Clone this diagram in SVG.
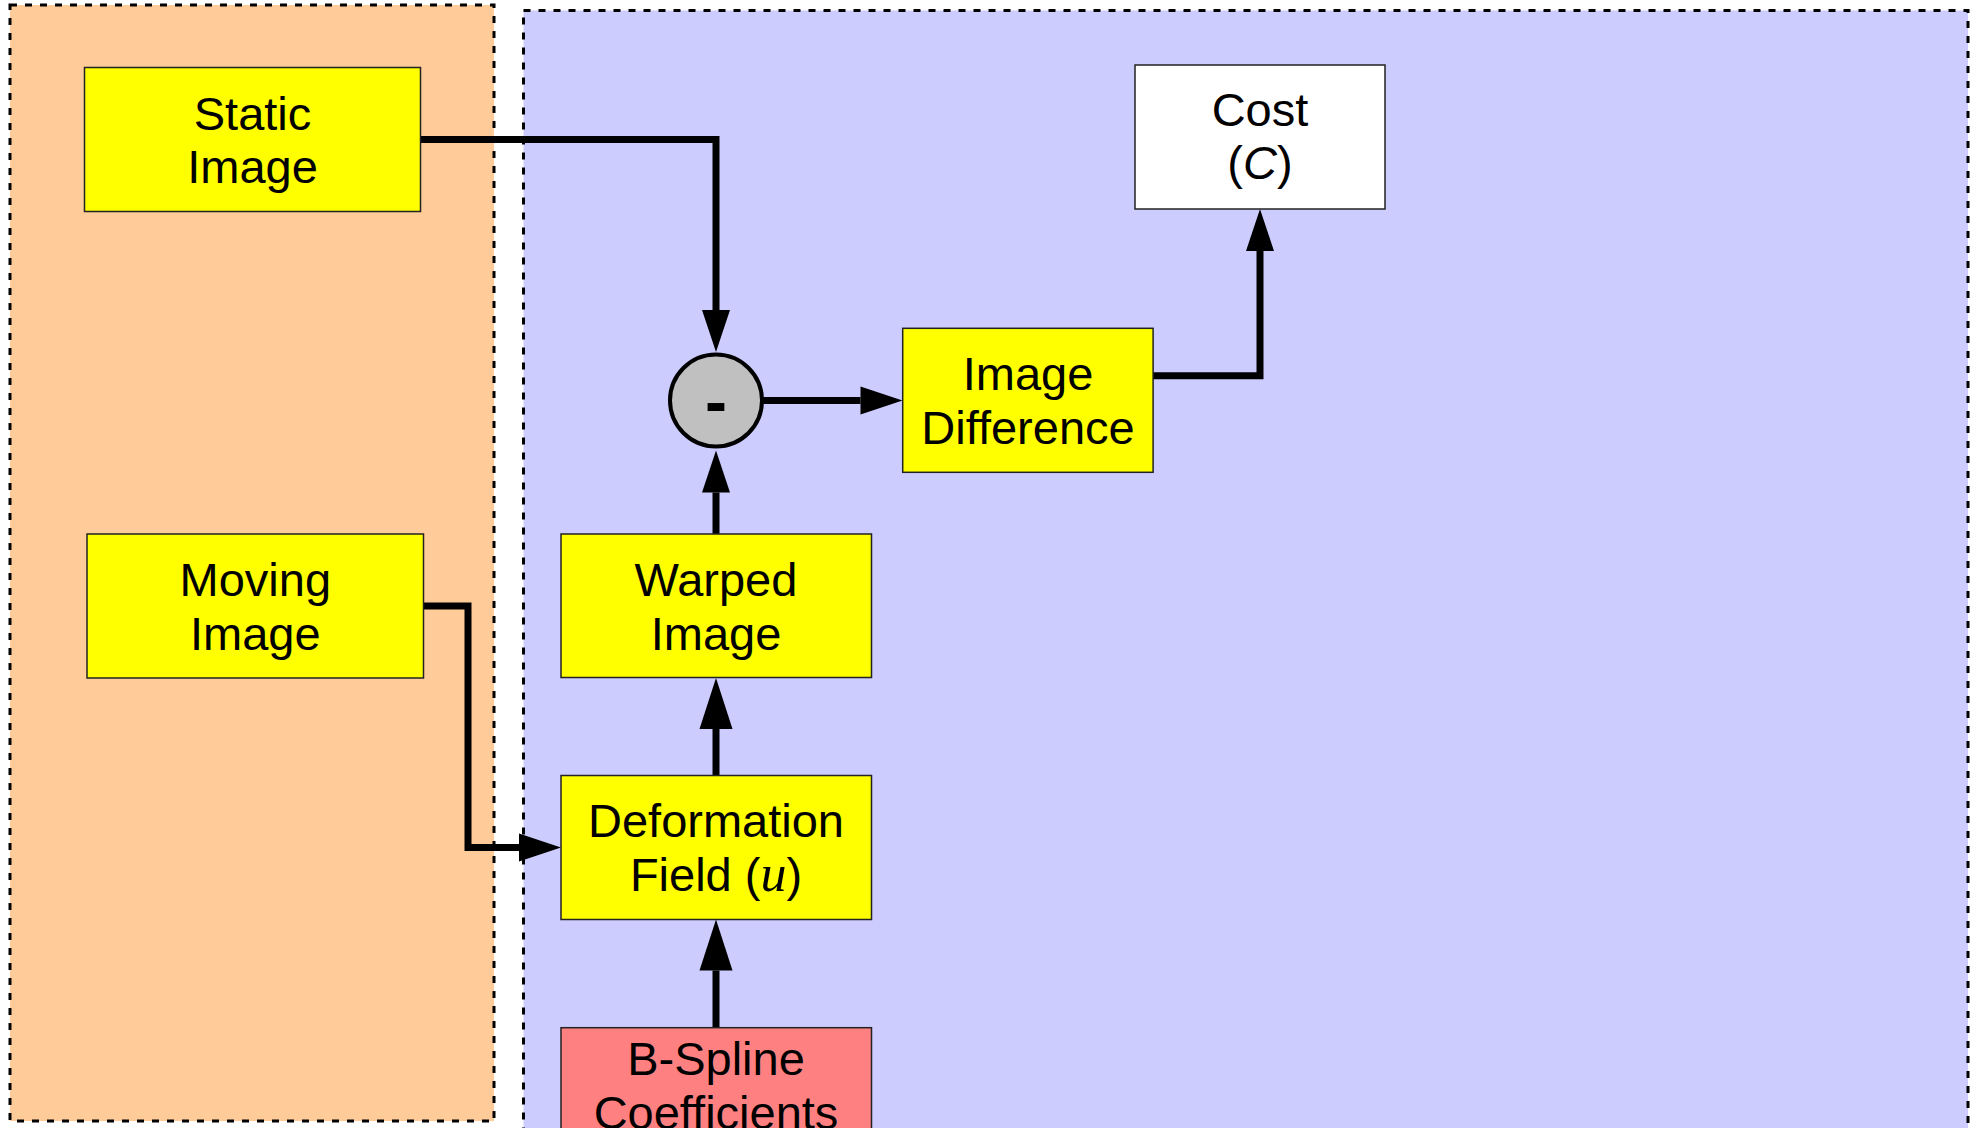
<svg xmlns="http://www.w3.org/2000/svg" width="1971" height="1128" viewBox="0 0 1971 1128">
<style>
.t{font-family:"Liberation Sans",Arial,sans-serif;font-size:47px;fill:#000;text-anchor:middle}
.box{stroke:#222;stroke-width:1.5}
.y{fill:#FFFF00}
.cn{fill:none;stroke:#000;stroke-width:7;stroke-linejoin:miter;stroke-linecap:butt}
.area{stroke:#000;stroke-width:3;stroke-dasharray:7 8}
</style>
<defs>
<marker id="a" markerUnits="userSpaceOnUse" markerWidth="44" markerHeight="30" refX="0" refY="14" orient="auto" overflow="visible">
<path d="M0,0 L42,14 L0,28 z" fill="#000"/>
</marker>
<marker id="b" markerUnits="userSpaceOnUse" markerWidth="52" markerHeight="34" refX="0" refY="16.5" orient="auto" overflow="visible">
<path d="M0,0 L51,16.5 L0,33 z" fill="#000"/>
</marker>
</defs>
<rect width="1971" height="1128" fill="#fff"/>
<g id="area-input">
<rect class="area" x="10" y="5" width="484" height="1116" fill="#FFCC99"/>
</g>
<g id="area-process">
<rect class="area" x="523.5" y="10.5" width="1444.5" height="1135" fill="#CCCCFF"/>
</g>
<g id="connectors">
<path class="cn" d="M420.5,139.5 H716 V310" marker-end="url(#a)"/>
<path class="cn" d="M762,400.5 H860.5" marker-end="url(#a)"/>
<path class="cn" d="M1153,375.7 H1260 V251" marker-end="url(#a)"/>
<path class="cn" d="M716,534 V492.5" marker-end="url(#a)"/>
<path class="cn" d="M423.6,606 H468 V847.6 H519" marker-end="url(#a)"/>
<path class="cn" d="M716,775.5 V729" marker-end="url(#b)"/>
<path class="cn" d="M716,1027.7 V970.5" marker-end="url(#b)"/>
</g>
<g id="static-image">
<rect class="box y" x="84.5" y="67.5" width="336" height="144"/>
<text class="t" x="252.5" y="129.5">Static</text>
<text class="t" x="252.5" y="183">Image</text>
</g>
<g id="moving-image">
<rect class="box y" x="87" y="534" width="336.5" height="144"/>
<text class="t" x="255.3" y="596">Moving</text>
<text class="t" x="255.3" y="649.5">Image</text>
</g>
<g id="subtract">
<circle cx="716" cy="400.5" r="46" fill="#C0C0C0" stroke="#000" stroke-width="4"/>
<text class="t" x="716" y="424" style="font-size:66px;font-weight:bold">-</text>
</g>
<g id="image-difference">
<rect class="box y" x="902.7" y="328.3" width="250.4" height="144"/>
<text class="t" x="1028" y="390">Image</text>
<text class="t" x="1028" y="443.5">Difference</text>
</g>
<g id="cost">
<rect class="box" x="1135" y="65" width="250" height="144" fill="#fff"/>
<text class="t" x="1260" y="126">Cost</text>
<text class="t" x="1260" y="179">(<tspan font-style="italic">C</tspan>)</text>
</g>
<g id="warped-image">
<rect class="box y" x="561" y="534" width="310.5" height="143.5"/>
<text class="t" x="716" y="596">Warped</text>
<text class="t" x="716" y="649.5">Image</text>
</g>
<g id="deformation-field">
<rect class="box y" x="561" y="775.5" width="310.5" height="144"/>
<text class="t" x="716" y="837">Deformation</text>
<text class="t" x="716" y="890.5">Field (<tspan font-family="'Liberation Serif',serif" font-style="italic" font-size="52">u</tspan>)</text>
</g>
<g id="bspline-coefficients">
<rect class="box" x="561" y="1027.7" width="310.5" height="144" fill="#FF8080"/>
<text class="t" x="716" y="1075">B-Spline</text>
<text class="t" x="716" y="1128.5">Coefficients</text>
</g>
</svg>
